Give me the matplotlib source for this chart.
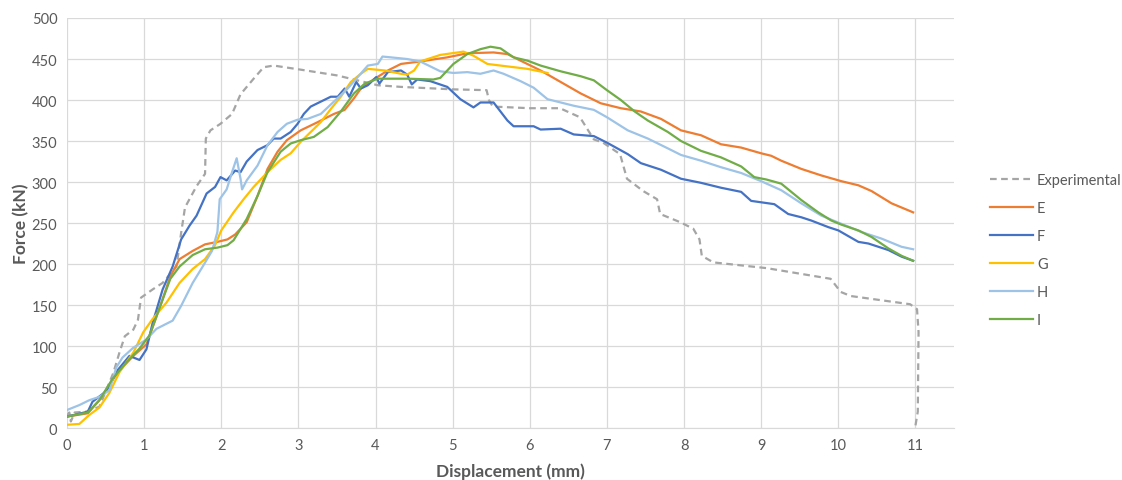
import numpy as np
import matplotlib.pyplot as plt

plt.rcParams['font.family'] = ['Lato', 'DejaVu Sans']

# Force-displacement curves
exp_x = [0.0, 0.03, 0.05, 0.1, 0.25, 0.42, 0.6, 0.68, 0.75, 0.86, 0.92, 0.96, 1.11, 1.24, 1.42,
         1.48, 1.53, 1.68, 1.79, 1.80, 1.86, 1.99, 2.14, 2.25, 2.42, 2.55, 2.68, 3.03, 3.5, 4.03,
         4.33, 5.0, 5.44, 5.47, 5.52, 6.0, 6.39, 6.65, 6.83, 6.95, 7.17, 7.26, 7.47, 7.65, 7.69,
         7.95, 8.12, 8.2, 8.23, 8.38, 9.07, 9.9, 10.03, 10.16, 10.93, 11.02, 11.04, 11.03, 11.0]
exp_y = [15, 19, 8, 19, 20, 26, 67, 92, 112, 120, 132, 159, 169, 177, 197,
         238, 269, 295, 310, 353, 363, 371, 383, 407, 426, 440, 442, 437, 430, 418,
         416, 413, 412, 400, 392, 390, 390, 379, 352, 348, 334, 304, 289, 279, 261,
         251, 243, 230, 210, 202, 195, 182, 166, 161, 151, 145, 117, 20, 3]

e_x = [0.0, 0.27, 0.42, 0.65, 0.86, 1.03, 1.21, 1.34, 1.46, 1.63, 1.79, 1.95, 2.08, 2.18, 2.33,
       2.47, 2.6, 2.73, 2.85, 3.03, 3.25, 3.46, 3.6, 3.72, 3.81, 3.99, 4.16, 4.33, 4.58, 4.93,
       5.19, 5.53, 5.71, 5.88, 6.14, 6.4, 6.66, 6.92, 7.18, 7.44, 7.7, 7.96, 8.22, 8.48, 8.74,
       9.0, 9.13, 9.26, 9.52, 9.78, 10.04, 10.26, 10.43, 10.69, 10.97]
e_y = [14, 18, 34, 67, 88, 102, 149, 185, 206, 216, 224, 227, 230, 236, 251,
       283, 316, 337, 351, 363, 373, 383, 388, 402, 414, 426, 436, 444, 447, 452,
       457, 458, 456, 448, 436, 422, 408, 396, 390, 386, 377, 363, 357, 346, 342,
       335, 332, 326, 316, 308, 301, 296, 289, 274, 263]

f_x = [0.0, 0.27, 0.33, 0.51, 0.66, 0.81, 0.94, 1.03, 1.11, 1.24, 1.37, 1.48, 1.59, 1.68, 1.81,
       1.92, 1.99, 2.07, 2.18, 2.25, 2.33, 2.47, 2.6, 2.68, 2.77, 2.9, 2.99, 3.07, 3.16, 3.29,
       3.42, 3.51, 3.6, 3.66, 3.75, 3.81, 3.9, 4.01, 4.05, 4.16, 4.33, 4.41, 4.47, 4.54, 4.71,
       4.93, 5.1, 5.27, 5.36, 5.53, 5.71, 5.79, 6.05, 6.14, 6.4, 6.57, 6.83, 7.0, 7.27, 7.44,
       7.7, 7.96, 8.22, 8.48, 8.74, 8.87, 9.17, 9.35, 9.52, 9.65, 9.87, 10.0, 10.26, 10.39,
       10.65, 10.82, 10.97]
f_y = [14, 20, 32, 45, 71, 88, 83, 96, 128, 169, 197, 230, 247, 259, 286,
       294, 306, 302, 314, 312, 325, 339, 345, 353, 353, 361, 371, 383, 392, 398,
       404, 404, 414, 404, 422, 414, 418, 428, 420, 434, 436, 431, 419, 425, 423,
       416, 401, 391, 397, 397, 375, 368, 368, 364, 365, 358, 356, 348, 334, 323,
       315, 304, 299, 293, 288, 277, 273, 261, 257, 253, 245, 241, 227, 225,
       217, 209, 204]

g_x = [0.0, 0.16, 0.29, 0.42, 0.55, 0.68, 0.86, 0.99, 1.11, 1.29, 1.46, 1.63, 1.79, 1.92, 2.0,
       2.16, 2.29, 2.42, 2.6, 2.77, 2.9, 3.03, 3.16, 3.29, 3.42, 3.55, 3.68, 3.81, 3.9, 4.12,
       4.33, 4.41, 4.5, 4.58, 4.84, 5.14, 5.27, 5.45, 5.62, 5.97, 6.23]
g_y = [4, 5, 16, 25, 43, 68, 92, 117, 133, 153, 177, 194, 206, 223, 241,
       263, 279, 294, 312, 327, 335, 349, 361, 373, 389, 404, 422, 432, 438, 436,
       432, 431, 436, 447, 455, 459, 454, 444, 442, 438, 433]

h_x = [0.0, 0.16, 0.29, 0.42, 0.55, 0.64, 0.72, 0.86, 1.03, 1.16, 1.37, 1.48, 1.63, 1.76, 1.88,
       1.95, 1.98, 2.07, 2.14, 2.2, 2.25, 2.27, 2.33, 2.47, 2.6, 2.73, 2.85, 2.99, 3.12, 3.29,
       3.46, 3.64, 3.77, 3.9, 4.03, 4.09, 4.2, 4.41, 4.58, 4.84, 5.01, 5.19, 5.36, 5.53, 5.66,
       5.88, 6.05, 6.23, 6.4, 6.57, 6.83, 7.0, 7.27, 7.53, 7.79, 7.96, 8.22, 8.48, 8.74, 9.0,
       9.26, 9.52, 9.78, 10.04, 10.3, 10.56, 10.82, 10.97]
h_y = [22, 28, 34, 38, 46, 74, 86, 98, 108, 121, 131, 149, 177, 197, 216,
       239, 279, 291, 312, 329, 304, 291, 302, 320, 345, 361, 371, 376, 377, 383,
       398, 414, 428, 442, 444, 453, 452, 450, 447, 435, 433, 434, 432, 436, 432,
       423, 415, 401, 397, 393, 388, 379, 363, 353, 341, 333, 326, 318, 311, 301,
       290, 274, 259, 249, 239, 231, 221, 218]

i_x = [0.0, 0.27, 0.42, 0.59, 0.77, 0.94, 1.07, 1.21, 1.34, 1.46, 1.63, 1.79, 1.95, 2.08, 2.16,
       2.33, 2.47, 2.6, 2.77, 2.9, 3.03, 3.2, 3.38, 3.55, 3.72, 3.86, 4.03, 4.41, 4.75, 4.84,
       5.01, 5.19, 5.36, 5.49, 5.62, 5.79, 5.97, 6.14, 6.4, 6.66, 6.83, 7.0, 7.18, 7.36, 7.53,
       7.79, 7.96, 8.22, 8.48, 8.74, 8.91, 9.07, 9.26, 9.52, 9.74, 9.91, 10.04, 10.26, 10.43,
       10.65, 10.82, 10.97]
i_y = [14, 19, 34, 60, 80, 97, 113, 149, 182, 197, 211, 218, 220, 223, 229,
       255, 283, 312, 337, 347, 351, 355, 367, 386, 408, 420, 426, 426, 425, 427,
       444, 456, 462, 465, 463, 452, 448, 442, 435, 429, 424, 412, 400, 386, 375,
       361, 350, 338, 330, 319, 306, 303, 298, 278, 263, 253, 248, 241, 233,
       219, 210, 204]

grey = '#595959'
fig = plt.figure(figsize=(11.22, 4.81), dpi=100)
ax = fig.add_axes([0.0597, 0.108, 0.7906, 0.8525])

ax.plot(exp_x, exp_y, color='#A5A5A5', lw=1.6, ls=(0, (3, 2)), label='Experimental')
ax.plot(e_x, e_y, color='#ED7D31', lw=1.6, label='E')
ax.plot(f_x, f_y, color='#4472C4', lw=1.6, label='F')
ax.plot(g_x, g_y, color='#FFC000', lw=1.6, label='G')
ax.plot(h_x, h_y, color='#9DC3E6', lw=1.6, label='H')
ax.plot(i_x, i_y, color='#70AD47', lw=1.6, label='I')

ax.set_xlim(0, 11.5)
ax.set_ylim(0, 500)
ax.set_xticks(range(0, 12))
ax.set_yticks(range(0, 501, 50))
ax.grid(True, color='#D9D9D9', lw=0.9)
ax.set_axisbelow(True)
for s in ['top', 'right', 'left']:
    ax.spines[s].set_visible(False)
ax.spines['bottom'].set_color('#D9D9D9')
ax.tick_params(length=0, labelsize=10.5, labelcolor=grey, pad=7)

ax.set_xlabel('Displacement (mm)', fontsize=12.5, fontweight='bold', color=grey, labelpad=8)
ax.set_ylabel('Force (kN)', fontsize=12.5, fontweight='bold', color=grey, labelpad=2)

leg = ax.legend(loc='center left', bbox_to_anchor=(1.026, 0.434), frameon=False,
                fontsize=10.5, handlelength=2.9, labelspacing=0.95, handletextpad=0.3)
for t in leg.get_texts():
    t.set_color(grey)

fig.savefig('out.png', dpi=100)
